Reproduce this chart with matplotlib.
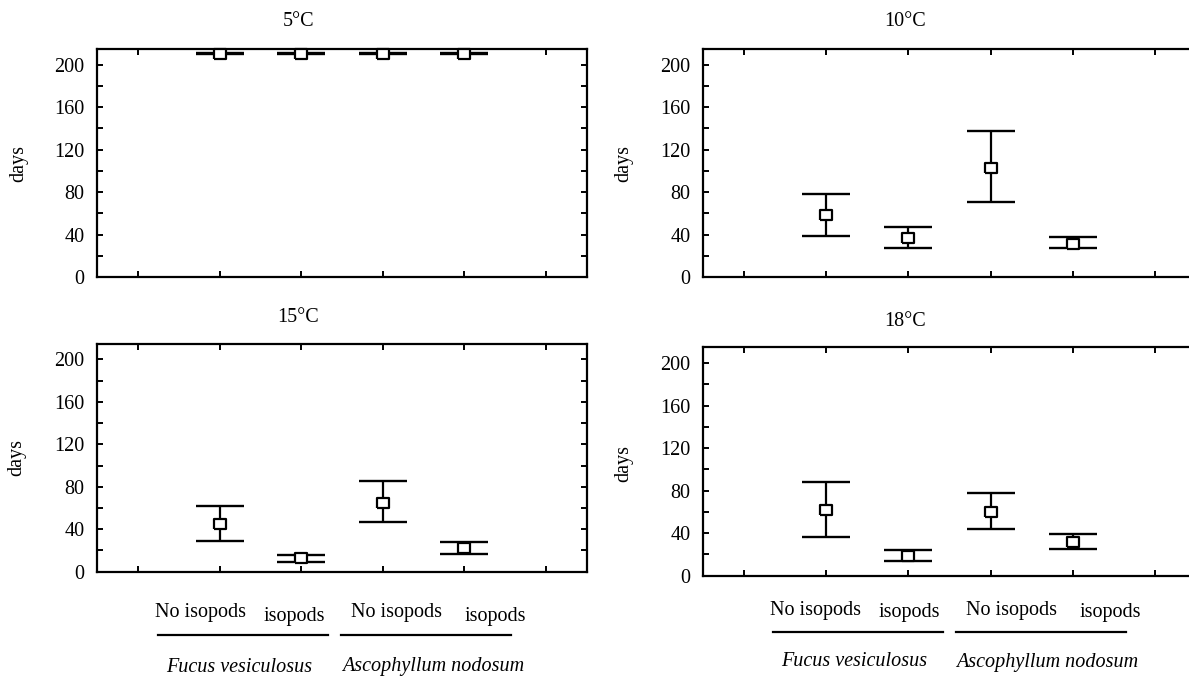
import matplotlib
matplotlib.use("Agg")
import matplotlib.pyplot as plt
from matplotlib.ticker import MultipleLocator, FixedLocator, NullFormatter
from matplotlib.lines import Line2D

plt.rcParams['font.family'] = ['Liberation Serif', 'DejaVu Serif']
FS = 14.5
plt.rcParams['font.size'] = FS

# Time (days) per treatment: mean with lower / upper interval bounds
treatments = ["No isopods", "isopods", "No isopods", "isopods"]
species = ["Fucus vesiculosus", "Ascophyllum nodosum"]
temperatures = ["5°C", "10°C", "15°C", "18°C"]

mean_5 = [210, 210, 210, 210]
low_5 = [210, 210, 210, 210]
high_5 = [211, 211, 211, 211]

mean_10 = [58, 37, 102.5, 31]
low_10 = [39, 27.5, 70.5, 27]
high_10 = [78, 47.5, 137.5, 37.5]

mean_15 = [45, 12.5, 65, 22]
low_15 = [29, 9, 46.5, 16.5]
high_15 = [62, 16, 85, 28]

mean_18 = [61.5, 18.5, 60, 31.5]
low_18 = [36, 14, 44, 25]
high_18 = [88, 24, 78, 39]

positions = [2, 3, 4, 5]

W, H = 1189, 677
fig = plt.figure(figsize=(W / 100, H / 100), dpi=100)


def fx(px):
    return px / W


def fy(py):
    return 1 - py / H


# slightly wide square marker
box_marker = [(-1.2, -1), (1.2, -1), (1.2, 1), (-1.2, 1), (-1.2, -1)]

# axes boxes in pixels: left, top, right, bottom
boxes = [
    (97, 48.7, 587, 277),
    (703, 48.7, 1196, 277),
    (97, 343.5, 587, 571.7),
    (703, 347.3, 1196, 575.7),
]
series = [
    (mean_5, low_5, high_5),
    (mean_10, low_10, high_10),
    (mean_15, low_15, high_15),
    (mean_18, low_18, high_18),
]
title_pos = [(299, 21), (905, 21), (298, 318), (905, 321)]
ylabel_pos = [(19, 163), (624, 163), (17, 458), (624, 463)]

for i, ((l, t, r, b), (m, lo, hi)) in enumerate(zip(boxes, series)):
    ax = fig.add_axes([fx(l), fy(b), fx(r - l), (b - t) / H])
    yerr = [[mm - ll for mm, ll in zip(m, lo)], [hh - mm for mm, hh in zip(m, hi)]]
    ax.errorbar(positions, m, yerr=yerr, fmt='none',
                ecolor='black', elinewidth=1.6, capsize=17, capthick=1.7,
                zorder=3)
    ax.plot(positions, m, linestyle='none', marker=box_marker, ms=8,
            mfc='white', mec='black', mew=1.6, zorder=4, clip_on=False)
    ax.set_xlim(0.5, 6.5)
    ax.set_ylim(0, 215)
    ax.xaxis.set_major_locator(FixedLocator([1, 2, 3, 4, 5, 6]))
    ax.xaxis.set_major_formatter(NullFormatter())
    ax.yaxis.set_major_locator(MultipleLocator(40))
    ax.yaxis.set_minor_locator(FixedLocator([20, 60, 100, 140, 180]))
    ax.tick_params(which='both', direction='in', length=4.5, width=1.4,
                   top=True, right=True, labelsize=FS, pad=9)
    for sp in ax.spines.values():
        sp.set_linewidth(1.6)
    fig.text(fx(title_pos[i][0]), fy(title_pos[i][1]), temperatures[i],
             ha='center', va='center', fontsize=FS)
    fig.text(fx(ylabel_pos[i][0]), fy(ylabel_pos[i][1]), "days",
             ha='center', va='center', rotation=90, fontsize=FS)

# group labels beneath the bottom row
groups = [
    dict(text_x=[200.5, 294.5, 396.5, 495], text_y=[613, 617],
         lines=[(158, 328), (341, 511)], line_y=634.5,
         sp_x=[239, 433], sp_y=667),
    dict(text_x=[815, 909, 1011, 1110], text_y=[611, 613],
         lines=[(773, 943), (956, 1126)], line_y=631.5,
         sp_x=[854, 1047], sp_y=662),
]
for g in groups:
    for lab, x in zip(treatments, g['text_x']):
        y = g['text_y'][0] if lab.startswith("No") else g['text_y'][1]
        fig.text(fx(x), fy(y), lab, ha='center', va='center', fontsize=FS)
    for (x0, x1) in g['lines']:
        fig.add_artist(Line2D([fx(x0), fx(x1)], [fy(g['line_y'])] * 2,
                              color='black', lw=1.6,
                              transform=fig.transFigure))
    for name, x in zip(species, g['sp_x']):
        fig.text(fx(x), fy(g['sp_y']), name, ha='center', va='center',
                 fontsize=FS, style='italic')

fig.savefig("out.png", dpi=100)
